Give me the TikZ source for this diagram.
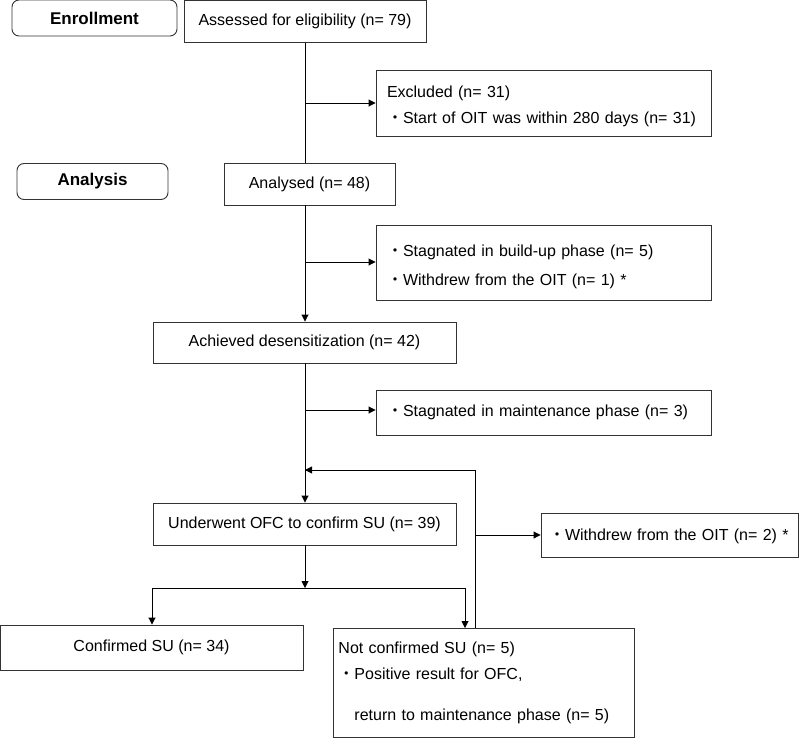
\documentclass[tikz,border=0pt]{standalone}
\usepackage{fontspec}
\setmainfont{Liberation Sans}
\newfontfamily\cjk{Noto Sans CJK JP}
\usetikzlibrary{arrows.meta}
\newcommand{\bul}{{\cjk ・}}
\begin{document}
\begin{tikzpicture}[x=1pt,y=-1pt,
  every node/.style={font=\fontsize{16}{26}\selectfont, text=black},
  box/.style={draw=black!80, line width=0.9pt, rectangle, inner sep=0pt},
  lbox/.style={box, rounded corners=7pt, font=\fontsize{17}{20}\selectfont\bfseries},
  conn/.style={line width=0.9pt, draw=black},
  arr/.style={conn, -{Triangle[length=7pt,width=7pt]}}
]
\useasboundingbox (0,0) rectangle (800,739);
% labels
\node[lbox, minimum width=165, minimum height=36] (enr) at (94.5,18) {Enrollment};
\node[lbox, minimum width=151, minimum height=36] (ana) at (92.5,181.5) {Analysis};
% main boxes
\node[box, minimum width=242, minimum height=42] (assess) at (305,21.5) {Assessed for eligibility (n= 79)};
\node[box, minimum width=335, minimum height=66, text width=313, inner xsep=11, align=left] (excl) at (543.5,103)
  {\rule{0pt}{17.7pt}Excluded (n= 31)\\[0pt]\bul Start of OIT was within 280 days (n= 31)};
\node[box, minimum width=171, minimum height=42] (anal) at (309.5,184) {Analysed (n= 48)};
\node[box, minimum width=335, minimum height=75, text width=313, inner xsep=11, align=left] (build) at (543.5,262.5)
  {\rule{0pt}{20.7pt}\bul Stagnated in build-up phase (n= 5)\\[3pt]\bul Withdrew from the OIT (n= 1) *};
\node[box, minimum width=303, minimum height=41] (ach) at (304.5,342.5) {Achieved desensitization (n= 42)};
\node[box, minimum width=335, minimum height=45, text width=313, inner xsep=11, align=left] (maint) at (543.5,412.5)
  {\bul Stagnated in maintenance phase (n= 3)};
\node[box, minimum width=257, minimum height=44, text width=241, inner xsep=8, align=left] (wd) at (669.5,535)
  {\rule{0pt}{14pt}\bul Withdrew from the OIT (n= 2) *};
\node[box, minimum width=303, minimum height=42] (und) at (304.5,524) {Underwent OFC to confirm SU (n= 39)};
\node[box, minimum width=303, minimum height=45] (conf) at (151.5,647.5) {Confirmed SU (n= 34)};
\node[box, minimum width=301, minimum height=109, text width=291, inner xsep=5, align=left, anchor=north west] (notc) at (333,628)
  {Not confirmed SU (n= 5)\\[0pt]\bul Positive result for OFC,\\[15pt]\hspace{1em}return to maintenance phase (n= 5)};
% junction coordinates
\coordinate (j1) at (305,103);
\coordinate (j2) at (305,262);
\coordinate (j3) at (305,410);
\coordinate (j4) at (305,470);
\coordinate (fb) at (475,470);
\coordinate (j5) at (475,535);
\coordinate (j6) at (305,588);
\coordinate (cl) at (152,588);
\coordinate (cr) at (465,588);
% connectors
\draw[conn] (assess.south) -- (assess.south |- anal.north);
\draw[arr] (j1) -- (excl.west |- j1);
\draw[arr] (anal.south -| j2) -- (ach.north -| j2);
\draw[arr] (j2) -- (build.west |- j2);
\draw[arr] (ach.south -| j3) -- (und.north -| j3);
\draw[arr] (j3) -- (maint.west |- j3);
\draw[arr] (notc.north -| fb) -- (fb) -- (j4);
\draw[arr] (j5) -- (wd.west |- j5);
\draw[arr] (und.south -| j6) -- (j6);
\draw[conn] (cl) -- (cr);
\draw[arr] (cl) -- (conf.north -| cl);
\draw[arr] (cr) -- (notc.north -| cr);
\end{tikzpicture}
\end{document}
